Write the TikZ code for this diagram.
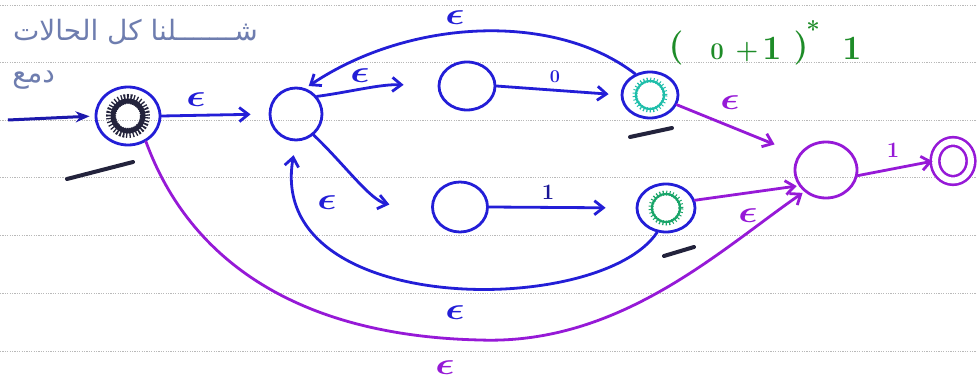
\documentclass[tikz,border=0pt]{standalone}
\usepackage{fontspec}
\usepackage{bm}
\usepackage{graphicx}
\TeXXeTstate=1
\newfontfamily\arabicfont[Script=Arabic]{DejaVu Sans}
\usetikzlibrary{arrows.meta,shapes.geometric}
\definecolor{pblue}{RGB}{35,30,215}
\definecolor{ppurple}{RGB}{150,25,215}
\definecolor{pdark}{RGB}{35,35,60}
\definecolor{pcyan}{RGB}{30,190,170}
\definecolor{pgreen}{RGB}{25,165,105}
\definecolor{pgreenlab}{RGB}{30,140,40}
\definecolor{pgray}{RGB}{110,125,175}
\newcommand{\heps}{\scalebox{1.6}[1.25]{$\bm{\epsilon}$}}
\begin{document}
\begin{tikzpicture}[x=1pt,y=-1pt,
  state/.style={ellipse,draw,line width=2.8pt,inner sep=0pt},
  bstate/.style={state,draw=pblue},
  pstate/.style={state,draw=ppurple},
  barb/.style={-{Straight Barb[length=9pt,width=14pt]}},
  bedge/.style={draw=pblue,line width=2.8pt,barb,line cap=round},
  pedge/.style={draw=ppurple,line width=2.8pt,barb,line cap=round},
  eps/.style={font=\fontsize{30}{30}\selectfont,inner sep=0pt},
  ruleline/.style={draw=gray!55,line width=0.7pt,dash pattern=on 1.2pt off 1.2pt},
  underbar/.style={draw=pdark,line width=4pt,line cap=round},
  greenlab/.style={text=pgreenlab,font=\bfseries\fontsize{34}{34}\selectfont,inner sep=0pt},
  arab/.style={text=pgray,font=\arabicfont\fontsize{28}{28}\selectfont,inner sep=0pt}
]
\useasboundingbox (0,0) rectangle (977,379);
\fill[white] (0,0) rectangle (977,379);
% notebook rules
\foreach \yy in {5,62,120,177,235,293,351}
  \draw[ruleline] (0,\yy) -- (977,\yy);

% Arabic notes
\node[arab,anchor=east] (ar1) at (258,32) {\beginR شـــــــلنا كل الحالات\endR};
\node[arab,anchor=east] (ar2) at (55,80) {\beginR دمع\endR};

% states
\node[bstate,minimum width=64pt,minimum height=58pt] (q0) at (128,116) {};
\node[bstate,minimum width=52pt,minimum height=52pt] (q1) at (296,114) {};
\node[bstate,minimum width=56pt,minimum height=48pt] (q2) at (467,86) {};
\node[bstate,minimum width=56pt,minimum height=46pt] (q3) at (650,95) {};
\node[bstate,minimum width=55pt,minimum height=50pt] (q4) at (460,207) {};
\node[bstate,minimum width=58pt,minimum height=48pt] (q5) at (666,208) {};
\node[pstate,minimum width=62pt,minimum height=56pt] (q6) at (826,170) {};
\node[pstate,minimum width=36pt,minimum height=39pt,double,double distance=6pt,line width=2.6pt] (q7) at (953,161) {};

% scribbled inner rings
\draw[pdark,line width=5pt] (q0) circle (15pt);
\draw[pdark,line width=10pt,dash pattern=on 1.3pt off 1.6pt] (q0) circle (17pt);
\draw[pcyan,line width=2.2pt] (q3) circle (14pt);
\draw[pcyan,line width=5pt,dash pattern=on 1pt off 2.2pt] (q3) circle (15pt);
\draw[pgreen,line width=2.2pt] (q5) circle (14pt);
\draw[pgreen,line width=5pt,dash pattern=on 1pt off 2.2pt] (q5) circle (15pt);

% under-bars
\coordinate (b0a) at (67,179); \coordinate (b0b) at (133,162);
\coordinate (b3a) at (630,137); \coordinate (b3b) at (672,128);
\coordinate (b5a) at (664,256); \coordinate (b5b) at (694,247);
\draw[underbar] (b0a) -- (b0b);
\draw[underbar] (b3a) -- (b3b);
\draw[underbar] (b5a) -- (b5b);

% start arrow
\coordinate (s) at (8,120);
\draw[draw=pblue!80!black,line width=3pt,-{Stealth[length=14pt,width=11pt]},shorten >=5pt] (s) -- (q0.west);

% blue transitions
\draw[bedge,shorten >=18pt] (q0.east) -- (q1.west);
\draw[bedge,shorten >=34pt] (q1.40) .. controls (350,92) and (380,84) .. (q2.west);
\draw[bedge,shorten >=12pt] (q2.east) -- (q3.west);
\draw[bedge,shorten >=4pt] (q3.125) .. controls (555,12) and (410,18) .. (q1.70);
\draw[bedge,shorten >=44pt] (q1.-50) .. controls (345,165) and (370,200) .. (q4.195);
\draw[bedge,shorten >=30pt] (q4.east) -- (q5.west);
\draw[bedge,shorten >=14pt] (q5.-110) .. controls (600,318) and (265,318) .. (q1.south);

% purple transitions
\draw[pedge,shorten >=26pt] (q3.-20) -- (q6.150);
\draw[pedge,shorten >=2pt] (q5.15) -- (q6.210);
\draw[pedge,shorten >=1pt] (q6.-10) -- (q7.west);
\draw[pedge,shorten >=2pt] (q0.-55) .. controls (190,262) and (300,336) .. (480,340)
   .. controls (620,345) and (720,250) .. (q6.225);

% labels
\node[eps,text=pblue] (l1) at (196,100) {\heps};
\node[eps,text=pblue,font=\fontsize{26}{26}\selectfont] (l2) at (360,76) {\heps};
\node[eps,text=pblue] (l3) at (455,18) {\heps};
\node[eps,text=pblue] (l4) at (327,203) {\heps};
\node[eps,text=pblue] (l5) at (455,313) {\heps};
\node[eps,text=ppurple] (l6) at (730,103) {\heps};
\node[eps,text=ppurple] (l7) at (748,216) {\heps};
\node[eps,text=ppurple] (l8) at (445,368) {\heps};
\node[inner sep=0pt,text=pblue,font=\bfseries\fontsize{18}{18}\selectfont] (l0) at (555,77) {0};
\node[inner sep=0pt,text=pblue!70!black,font=\bfseries\fontsize{22}{22}\selectfont] (l9) at (548,192) {1};
\node[inner sep=0pt,text=ppurple,font=\bfseries\fontsize{22}{22}\selectfont] (l10) at (893,150) {1};

% green regular expression
\node[greenlab] (g1) at (676,48) {(};
\node[greenlab,font=\bfseries\fontsize{24}{24}\selectfont] (g2) at (717,52) {0};
\node[greenlab,font=\bfseries\fontsize{26}{26}\selectfont] (g3) at (747,52) {+};
\node[greenlab] (g4) at (772,48) {1};
\node[greenlab] (g5) at (801,48) {)};
\node[greenlab,font=\bfseries\fontsize{24}{24}\selectfont] (g6) at (813,30) {*};
\node[greenlab] (g7) at (852,48) {1};
\end{tikzpicture}
\end{document}
